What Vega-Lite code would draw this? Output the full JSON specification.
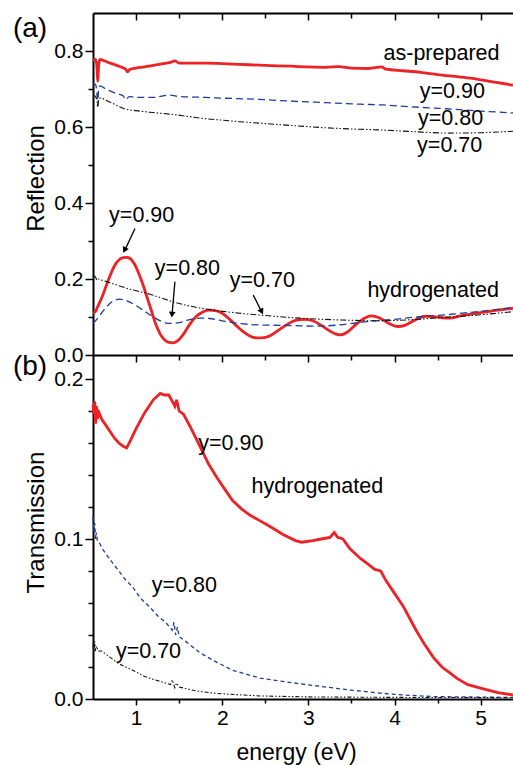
{
  "$schema": "https://vega.github.io/schema/vega-lite/v6.json",
  "autosize": "none",
  "padding": {"left": 93, "top": 13, "right": 420, "bottom": 752},
  "bounds": "flush",
  "spacing": 0,
  "config": {
    "view": {"stroke": null},
    "font": "Liberation Sans",
    "axis": {
      "labelFont": "Liberation Sans", "labelFontSize": 21, "labelColor": "#000",
      "titleFont": "Liberation Sans", "titleFontSize": 24, "titleFontWeight": "normal", "titleColor": "#000",
      "domainColor": "#000", "domainWidth": 2, "tickColor": "#000", "tickWidth": 1.5, "grid": false
    },
    "text": {"font": "Liberation Sans", "fontSize": 21.5, "color": "#000", "baseline": "alphabetic", "align": "center"}
  },
  "datasets": {
    "refl": [
      {"E":0.50,"R":0.775,"y":"0.90","s":"ap"},{"E":0.53,"R":0.778,"y":"0.90","s":"ap"},{"E":0.545,"R":0.76,"y":"0.90","s":"ap"},{"E":0.555,"R":0.72,"y":"0.90","s":"ap"},{"E":0.565,"R":0.76,"y":"0.90","s":"ap"},{"E":0.58,"R":0.778,"y":"0.90","s":"ap"},{"E":0.62,"R":0.775,"y":"0.90","s":"ap"},{"E":0.70,"R":0.768,"y":"0.90","s":"ap"},{"E":0.80,"R":0.76,"y":"0.90","s":"ap"},{"E":0.88,"R":0.752,"y":"0.90","s":"ap"},{"E":0.90,"R":0.745,"y":"0.90","s":"ap"},{"E":0.93,"R":0.752,"y":"0.90","s":"ap"},{"E":1.0,"R":0.755,"y":"0.90","s":"ap"},{"E":1.1,"R":0.758,"y":"0.90","s":"ap"},{"E":1.2,"R":0.762,"y":"0.90","s":"ap"},{"E":1.3,"R":0.766,"y":"0.90","s":"ap"},{"E":1.4,"R":0.770,"y":"0.90","s":"ap"},{"E":1.45,"R":0.774,"y":"0.90","s":"ap"},{"E":1.5,"R":0.768,"y":"0.90","s":"ap"},{"E":1.6,"R":0.768,"y":"0.90","s":"ap"},{"E":1.8,"R":0.768,"y":"0.90","s":"ap"},{"E":2.0,"R":0.767,"y":"0.90","s":"ap"},{"E":2.2,"R":0.765,"y":"0.90","s":"ap"},{"E":2.5,"R":0.762,"y":"0.90","s":"ap"},{"E":2.8,"R":0.760,"y":"0.90","s":"ap"},{"E":3.0,"R":0.758,"y":"0.90","s":"ap"},{"E":3.2,"R":0.757,"y":"0.90","s":"ap"},{"E":3.35,"R":0.759,"y":"0.90","s":"ap"},{"E":3.5,"R":0.755,"y":"0.90","s":"ap"},{"E":3.7,"R":0.754,"y":"0.90","s":"ap"},{"E":3.85,"R":0.758,"y":"0.90","s":"ap"},{"E":3.9,"R":0.752,"y":"0.90","s":"ap"},{"E":4.1,"R":0.748,"y":"0.90","s":"ap"},{"E":4.3,"R":0.744,"y":"0.90","s":"ap"},{"E":4.5,"R":0.738,"y":"0.90","s":"ap"},{"E":4.7,"R":0.733,"y":"0.90","s":"ap"},{"E":4.9,"R":0.728,"y":"0.90","s":"ap"},{"E":5.0,"R":0.724,"y":"0.90","s":"ap"},{"E":5.2,"R":0.717,"y":"0.90","s":"ap"},{"E":5.375,"R":0.71,"y":"0.90","s":"ap"},

      {"E":0.50,"R":0.715,"y":"0.80","s":"ap"},{"E":0.53,"R":0.712,"y":"0.80","s":"ap"},{"E":0.545,"R":0.69,"y":"0.80","s":"ap"},{"E":0.555,"R":0.655,"y":"0.80","s":"ap"},{"E":0.565,"R":0.70,"y":"0.80","s":"ap"},{"E":0.58,"R":0.708,"y":"0.80","s":"ap"},{"E":0.65,"R":0.70,"y":"0.80","s":"ap"},{"E":0.75,"R":0.69,"y":"0.80","s":"ap"},{"E":0.85,"R":0.682,"y":"0.80","s":"ap"},{"E":0.88,"R":0.672,"y":"0.80","s":"ap"},{"E":0.92,"R":0.68,"y":"0.80","s":"ap"},{"E":1.0,"R":0.678,"y":"0.80","s":"ap"},{"E":1.2,"R":0.678,"y":"0.80","s":"ap"},{"E":1.4,"R":0.684,"y":"0.80","s":"ap"},{"E":1.5,"R":0.68,"y":"0.80","s":"ap"},{"E":1.8,"R":0.678,"y":"0.80","s":"ap"},{"E":2.0,"R":0.676,"y":"0.80","s":"ap"},{"E":2.4,"R":0.673,"y":"0.80","s":"ap"},{"E":2.8,"R":0.668,"y":"0.80","s":"ap"},{"E":3.2,"R":0.664,"y":"0.80","s":"ap"},{"E":3.6,"R":0.66,"y":"0.80","s":"ap"},{"E":3.86,"R":0.658,"y":"0.80","s":"ap"},{"E":4.2,"R":0.653,"y":"0.80","s":"ap"},{"E":4.6,"R":0.648,"y":"0.80","s":"ap"},{"E":5.0,"R":0.642,"y":"0.80","s":"ap"},{"E":5.375,"R":0.637,"y":"0.80","s":"ap"},

      {"E":0.50,"R":0.684,"y":"0.70","s":"ap"},{"E":0.53,"R":0.68,"y":"0.70","s":"ap"},{"E":0.545,"R":0.668,"y":"0.70","s":"ap"},{"E":0.555,"R":0.652,"y":"0.70","s":"ap"},{"E":0.565,"R":0.672,"y":"0.70","s":"ap"},{"E":0.58,"R":0.676,"y":"0.70","s":"ap"},{"E":0.7,"R":0.665,"y":"0.70","s":"ap"},{"E":0.88,"R":0.647,"y":"0.70","s":"ap"},{"E":1.0,"R":0.643,"y":"0.70","s":"ap"},{"E":1.2,"R":0.638,"y":"0.70","s":"ap"},{"E":1.43,"R":0.633,"y":"0.70","s":"ap"},{"E":1.6,"R":0.628,"y":"0.70","s":"ap"},{"E":1.8,"R":0.622,"y":"0.70","s":"ap"},{"E":2.0,"R":0.618,"y":"0.70","s":"ap"},{"E":2.2,"R":0.614,"y":"0.70","s":"ap"},{"E":2.44,"R":0.61,"y":"0.70","s":"ap"},{"E":2.8,"R":0.604,"y":"0.70","s":"ap"},{"E":3.2,"R":0.598,"y":"0.70","s":"ap"},{"E":3.6,"R":0.594,"y":"0.70","s":"ap"},{"E":3.86,"R":0.592,"y":"0.70","s":"ap"},{"E":4.2,"R":0.588,"y":"0.70","s":"ap"},{"E":4.64,"R":0.584,"y":"0.70","s":"ap"},{"E":5.0,"R":0.585,"y":"0.70","s":"ap"},{"E":5.375,"R":0.589,"y":"0.70","s":"ap"},

      {"E":0.50,"R":0.11,"y":"0.90","s":"h"},{"E":0.53,"R":0.115,"y":"0.90","s":"h"},{"E":0.55,"R":0.125,"y":"0.90","s":"h"},{"E":0.60,"R":0.15,"y":"0.90","s":"h"},{"E":0.65,"R":0.18,"y":"0.90","s":"h"},{"E":0.70,"R":0.21,"y":"0.90","s":"h"},{"E":0.75,"R":0.235,"y":"0.90","s":"h"},{"E":0.80,"R":0.25,"y":"0.90","s":"h"},{"E":0.85,"R":0.256,"y":"0.90","s":"h"},{"E":0.89,"R":0.257,"y":"0.90","s":"h"},{"E":0.93,"R":0.254,"y":"0.90","s":"h"},{"E":0.98,"R":0.24,"y":"0.90","s":"h"},{"E":1.03,"R":0.215,"y":"0.90","s":"h"},{"E":1.08,"R":0.185,"y":"0.90","s":"h"},{"E":1.13,"R":0.15,"y":"0.90","s":"h"},{"E":1.18,"R":0.115,"y":"0.90","s":"h"},{"E":1.23,"R":0.08,"y":"0.90","s":"h"},{"E":1.28,"R":0.055,"y":"0.90","s":"h"},{"E":1.33,"R":0.04,"y":"0.90","s":"h"},{"E":1.38,"R":0.033,"y":"0.90","s":"h"},{"E":1.43,"R":0.032,"y":"0.90","s":"h"},{"E":1.48,"R":0.037,"y":"0.90","s":"h"},{"E":1.55,"R":0.055,"y":"0.90","s":"h"},{"E":1.62,"R":0.08,"y":"0.90","s":"h"},{"E":1.70,"R":0.102,"y":"0.90","s":"h"},{"E":1.78,"R":0.114,"y":"0.90","s":"h"},{"E":1.85,"R":0.118,"y":"0.90","s":"h"},{"E":1.92,"R":0.117,"y":"0.90","s":"h"},{"E":2.0,"R":0.11,"y":"0.90","s":"h"},{"E":2.08,"R":0.095,"y":"0.90","s":"h"},{"E":2.16,"R":0.078,"y":"0.90","s":"h"},{"E":2.24,"R":0.062,"y":"0.90","s":"h"},{"E":2.32,"R":0.05,"y":"0.90","s":"h"},{"E":2.40,"R":0.045,"y":"0.90","s":"h"},{"E":2.46,"R":0.045,"y":"0.90","s":"h"},{"E":2.55,"R":0.05,"y":"0.90","s":"h"},{"E":2.65,"R":0.065,"y":"0.90","s":"h"},{"E":2.75,"R":0.08,"y":"0.90","s":"h"},{"E":2.85,"R":0.091,"y":"0.90","s":"h"},{"E":2.96,"R":0.094,"y":"0.90","s":"h"},{"E":3.05,"R":0.09,"y":"0.90","s":"h"},{"E":3.15,"R":0.078,"y":"0.90","s":"h"},{"E":3.25,"R":0.063,"y":"0.90","s":"h"},{"E":3.32,"R":0.055,"y":"0.90","s":"h"},{"E":3.37,"R":0.053,"y":"0.90","s":"h"},{"E":3.45,"R":0.06,"y":"0.90","s":"h"},{"E":3.55,"R":0.08,"y":"0.90","s":"h"},{"E":3.65,"R":0.097,"y":"0.90","s":"h"},{"E":3.73,"R":0.103,"y":"0.90","s":"h"},{"E":3.82,"R":0.098,"y":"0.90","s":"h"},{"E":3.92,"R":0.085,"y":"0.90","s":"h"},{"E":4.04,"R":0.075,"y":"0.90","s":"h"},{"E":4.12,"R":0.078,"y":"0.90","s":"h"},{"E":4.22,"R":0.09,"y":"0.90","s":"h"},{"E":4.30,"R":0.099,"y":"0.90","s":"h"},{"E":4.37,"R":0.102,"y":"0.90","s":"h"},{"E":4.45,"R":0.101,"y":"0.90","s":"h"},{"E":4.55,"R":0.098,"y":"0.90","s":"h"},{"E":4.64,"R":0.097,"y":"0.90","s":"h"},{"E":4.75,"R":0.102,"y":"0.90","s":"h"},{"E":4.9,"R":0.108,"y":"0.90","s":"h"},{"E":5.1,"R":0.115,"y":"0.90","s":"h"},{"E":5.375,"R":0.123,"y":"0.90","s":"h"},

      {"E":0.50,"R":0.084,"y":"0.80","s":"h"},{"E":0.53,"R":0.09,"y":"0.80","s":"h"},{"E":0.58,"R":0.105,"y":"0.80","s":"h"},{"E":0.65,"R":0.125,"y":"0.80","s":"h"},{"E":0.72,"R":0.14,"y":"0.80","s":"h"},{"E":0.81,"R":0.147,"y":"0.80","s":"h"},{"E":0.90,"R":0.142,"y":"0.80","s":"h"},{"E":1.0,"R":0.13,"y":"0.80","s":"h"},{"E":1.1,"R":0.115,"y":"0.80","s":"h"},{"E":1.2,"R":0.1,"y":"0.80","s":"h"},{"E":1.3,"R":0.088,"y":"0.80","s":"h"},{"E":1.39,"R":0.083,"y":"0.80","s":"h"},{"E":1.5,"R":0.085,"y":"0.80","s":"h"},{"E":1.6,"R":0.092,"y":"0.80","s":"h"},{"E":1.74,"R":0.097,"y":"0.80","s":"h"},{"E":1.85,"R":0.096,"y":"0.80","s":"h"},{"E":2.0,"R":0.09,"y":"0.80","s":"h"},{"E":2.2,"R":0.083,"y":"0.80","s":"h"},{"E":2.44,"R":0.079,"y":"0.80","s":"h"},{"E":2.7,"R":0.078,"y":"0.80","s":"h"},{"E":3.1,"R":0.076,"y":"0.80","s":"h"},{"E":3.4,"R":0.08,"y":"0.80","s":"h"},{"E":3.68,"R":0.088,"y":"0.80","s":"h"},{"E":4.0,"R":0.094,"y":"0.80","s":"h"},{"E":4.26,"R":0.1,"y":"0.80","s":"h"},{"E":4.6,"R":0.106,"y":"0.80","s":"h"},{"E":5.0,"R":0.115,"y":"0.80","s":"h"},{"E":5.375,"R":0.125,"y":"0.80","s":"h"},

      {"E":0.50,"R":0.21,"y":"0.70","s":"h"},{"E":0.53,"R":0.205,"y":"0.70","s":"h"},{"E":0.545,"R":0.197,"y":"0.70","s":"h"},{"E":0.56,"R":0.2,"y":"0.70","s":"h"},{"E":0.6,"R":0.197,"y":"0.70","s":"h"},{"E":0.7,"R":0.19,"y":"0.70","s":"h"},{"E":0.9,"R":0.175,"y":"0.70","s":"h"},{"E":1.16,"R":0.16,"y":"0.70","s":"h"},{"E":1.43,"R":0.14,"y":"0.70","s":"h"},{"E":1.6,"R":0.13,"y":"0.70","s":"h"},{"E":1.9,"R":0.118,"y":"0.70","s":"h"},{"E":2.2,"R":0.11,"y":"0.70","s":"h"},{"E":2.44,"R":0.105,"y":"0.70","s":"h"},{"E":2.9,"R":0.097,"y":"0.70","s":"h"},{"E":3.4,"R":0.092,"y":"0.70","s":"h"},{"E":3.8,"R":0.09,"y":"0.70","s":"h"},{"E":4.2,"R":0.093,"y":"0.70","s":"h"},{"E":4.64,"R":0.1,"y":"0.70","s":"h"},{"E":5.0,"R":0.106,"y":"0.70","s":"h"},{"E":5.375,"R":0.114,"y":"0.70","s":"h"}
    ],
    "trans": [
      {"E":0.50,"T":0.184,"y":"0.90"},{"E":0.51,"T":0.178,"y":"0.90"},{"E":0.52,"T":0.186,"y":"0.90"},{"E":0.53,"T":0.172,"y":"0.90"},{"E":0.54,"T":0.183,"y":"0.90"},{"E":0.55,"T":0.175,"y":"0.90"},{"E":0.57,"T":0.179,"y":"0.90"},{"E":0.60,"T":0.175,"y":"0.90"},{"E":0.65,"T":0.171,"y":"0.90"},{"E":0.70,"T":0.167,"y":"0.90"},{"E":0.75,"T":0.163,"y":"0.90"},{"E":0.80,"T":0.16,"y":"0.90"},{"E":0.85,"T":0.158,"y":"0.90"},{"E":0.89,"T":0.157,"y":"0.90"},{"E":0.93,"T":0.161,"y":"0.90"},{"E":1.0,"T":0.169,"y":"0.90"},{"E":1.1,"T":0.179,"y":"0.90"},{"E":1.2,"T":0.187,"y":"0.90"},{"E":1.28,"T":0.191,"y":"0.90"},{"E":1.33,"T":0.19,"y":"0.90"},{"E":1.38,"T":0.19,"y":"0.90"},{"E":1.42,"T":0.186,"y":"0.90"},{"E":1.45,"T":0.183,"y":"0.90"},{"E":1.47,"T":0.187,"y":"0.90"},{"E":1.5,"T":0.18,"y":"0.90"},{"E":1.55,"T":0.178,"y":"0.90"},{"E":1.63,"T":0.17,"y":"0.90"},{"E":1.74,"T":0.158,"y":"0.90"},{"E":1.84,"T":0.147,"y":"0.90"},{"E":1.93,"T":0.139,"y":"0.90"},{"E":2.03,"T":0.131,"y":"0.90"},{"E":2.12,"T":0.124,"y":"0.90"},{"E":2.22,"T":0.119,"y":"0.90"},{"E":2.32,"T":0.115,"y":"0.90"},{"E":2.45,"T":0.111,"y":"0.90"},{"E":2.55,"T":0.108,"y":"0.90"},{"E":2.7,"T":0.103,"y":"0.90"},{"E":2.85,"T":0.099,"y":"0.90"},{"E":2.92,"T":0.098,"y":"0.90"},{"E":3.05,"T":0.099,"y":"0.90"},{"E":3.15,"T":0.1,"y":"0.90"},{"E":3.25,"T":0.101,"y":"0.90"},{"E":3.3,"T":0.104,"y":"0.90"},{"E":3.34,"T":0.101,"y":"0.90"},{"E":3.4,"T":0.1,"y":"0.90"},{"E":3.48,"T":0.094,"y":"0.90"},{"E":3.6,"T":0.088,"y":"0.90"},{"E":3.7,"T":0.084,"y":"0.90"},{"E":3.77,"T":0.081,"y":"0.90"},{"E":3.84,"T":0.08,"y":"0.90"},{"E":3.9,"T":0.074,"y":"0.90"},{"E":4.0,"T":0.066,"y":"0.90"},{"E":4.1,"T":0.058,"y":"0.90"},{"E":4.18,"T":0.05,"y":"0.90"},{"E":4.25,"T":0.043,"y":"0.90"},{"E":4.35,"T":0.034,"y":"0.90"},{"E":4.45,"T":0.026,"y":"0.90"},{"E":4.55,"T":0.02,"y":"0.90"},{"E":4.65,"T":0.016,"y":"0.90"},{"E":4.72,"T":0.013,"y":"0.90"},{"E":4.85,"T":0.009,"y":"0.90"},{"E":5.02,"T":0.0065,"y":"0.90"},{"E":5.2,"T":0.004,"y":"0.90"},{"E":5.375,"T":0.0025,"y":"0.90"},

      {"E":0.50,"T":0.114,"y":"0.80"},{"E":0.51,"T":0.105,"y":"0.80"},{"E":0.52,"T":0.11,"y":"0.80"},{"E":0.53,"T":0.1,"y":"0.80"},{"E":0.54,"T":0.104,"y":"0.80"},{"E":0.55,"T":0.099,"y":"0.80"},{"E":0.58,"T":0.097,"y":"0.80"},{"E":0.62,"T":0.093,"y":"0.80"},{"E":0.70,"T":0.087,"y":"0.80"},{"E":0.80,"T":0.08,"y":"0.80"},{"E":0.87,"T":0.075,"y":"0.80"},{"E":0.96,"T":0.07,"y":"0.80"},{"E":1.05,"T":0.063,"y":"0.80"},{"E":1.15,"T":0.058,"y":"0.80"},{"E":1.25,"T":0.052,"y":"0.80"},{"E":1.35,"T":0.0475,"y":"0.80"},{"E":1.42,"T":0.043,"y":"0.80"},{"E":1.44,"T":0.048,"y":"0.80"},{"E":1.46,"T":0.04,"y":"0.80"},{"E":1.48,"T":0.045,"y":"0.80"},{"E":1.5,"T":0.039,"y":"0.80"},{"E":1.6,"T":0.035,"y":"0.80"},{"E":1.74,"T":0.029,"y":"0.80"},{"E":1.9,"T":0.024,"y":"0.80"},{"E":2.12,"T":0.018,"y":"0.80"},{"E":2.44,"T":0.013,"y":"0.80"},{"E":2.7,"T":0.011,"y":"0.80"},{"E":3.0,"T":0.0088,"y":"0.80"},{"E":3.29,"T":0.0069,"y":"0.80"},{"E":3.5,"T":0.0055,"y":"0.80"},{"E":3.83,"T":0.0037,"y":"0.80"},{"E":4.1,"T":0.0025,"y":"0.80"},{"E":4.45,"T":0.0015,"y":"0.80"},{"E":5.0,"T":0.0012,"y":"0.80"},{"E":5.375,"T":0.001,"y":"0.80"},

      {"E":0.50,"T":0.034,"y":"0.70"},{"E":0.51,"T":0.029,"y":"0.70"},{"E":0.52,"T":0.036,"y":"0.70"},{"E":0.53,"T":0.03,"y":"0.70"},{"E":0.54,"T":0.033,"y":"0.70"},{"E":0.56,"T":0.03,"y":"0.70"},{"E":0.60,"T":0.03,"y":"0.70"},{"E":0.70,"T":0.026,"y":"0.70"},{"E":0.8,"T":0.022,"y":"0.70"},{"E":0.96,"T":0.018,"y":"0.70"},{"E":1.1,"T":0.014,"y":"0.70"},{"E":1.28,"T":0.011,"y":"0.70"},{"E":1.4,"T":0.009,"y":"0.70"},{"E":1.42,"T":0.012,"y":"0.70"},{"E":1.45,"T":0.007,"y":"0.70"},{"E":1.47,"T":0.01,"y":"0.70"},{"E":1.5,"T":0.0075,"y":"0.70"},{"E":1.7,"T":0.005,"y":"0.70"},{"E":1.93,"T":0.0035,"y":"0.70"},{"E":2.44,"T":0.0019,"y":"0.70"},{"E":3.0,"T":0.0013,"y":"0.70"},{"E":4.0,"T":0.001,"y":"0.70"},{"E":5.375,"T":0.0008,"y":"0.70"}
    ],
    "labA": [
      {"E":4.545,"R":0.776,"t":"as-prepared"},
      {"E":4.671,"R":0.676,"t":"y=0.90"},
      {"E":4.65,"R":0.605,"t":"y=0.80"},
      {"E":4.64,"R":0.535,"t":"y=0.70"},
      {"E":1.065,"R":0.351,"t":"y=0.90"},
      {"E":1.596,"R":0.2105,"t":"y=0.80"},
      {"E":2.466,"R":0.18,"t":"y=0.70"},
      {"E":4.448,"R":0.153,"t":"hydrogenated"}
    ],
    "panA": [{"E":-0.231,"R":0.8376,"t":"(a)"}],
    "panB": [{"E":-0.231,"T":0.2025,"t":"(b)"}],
    "arrows": [
      {"id":1,"E":0.987,"R":0.333,"E2":0.862,"R2":0.272},
      {"id":2,"E":1.451,"R":0.193,"E2":1.416,"R2":0.103},
      {"id":3,"E":2.36,"R":0.158,"E2":2.463,"R2":0.111}
    ],
    "heads": [
      {"id":1,"E":0.866,"R":0.276},
      {"id":2,"E":1.417,"R":0.106},
      {"id":3,"E":2.458,"R":0.114}
    ],
    "labB": [
      {"E":2.10,"T":0.1556,"t":"y=0.90"},
      {"E":3.104,"T":0.1286,"t":"hydrogenated"},
      {"E":1.561,"T":0.067,"t":"y=0.80"},
      {"E":1.144,"T":0.0254,"t":"y=0.70"}
    ]
  },
  "vconcat": [
    {
      "width": 420,
      "height": 342,
      "resolve": {"axis": {"x": "independent", "y": "independent"}},
      "layer": [
        {
          "layer": [
            {
              "data": {"name": "refl"},
              "transform": [{"filter": "datum.y == '0.90'"}],
              "mark": {"type": "line", "color": "#ee2226", "strokeWidth": 2.8, "interpolate": "monotone"},
              "encoding": {
                "x": {"field": "E", "type": "quantitative", "scale": {"domain": [0.5, 5.375], "nice": false, "zero": false},
                  "axis": {"orient": "bottom", "values": [1,2,3,4,5], "labels": false, "title": null, "tickSize": 7}},
                "y": {"field": "R", "type": "quantitative", "scale": {"domain": [0, 0.9], "nice": false},
                  "axis": {"values": [0,0.2,0.4,0.6,0.8], "labelPadding": 2, "format": ".1f", "tickSize": 8,
                    "title": "Reflection", "titleX": -50, "titleY": 165, "titleBaseline": "alphabetic", "titleAlign": "center", "titleAngle": 270}},
                "detail": {"field": "s"}
              }
            },
            {
              "data": {"name": "refl"},
              "transform": [{"filter": "datum.y == '0.80'"}],
              "mark": {"type": "line", "color": "#1e3c9a", "strokeWidth": 1.3, "strokeDash": [7, 4], "interpolate": "monotone"},
              "encoding": {
                "x": {"field": "E", "type": "quantitative"},
                "y": {"field": "R", "type": "quantitative"},
                "detail": {"field": "s"}
              }
            },
            {
              "data": {"name": "refl"},
              "transform": [{"filter": "datum.y == '0.70'"}],
              "mark": {"type": "line", "color": "#111111", "strokeWidth": 1.1, "strokeDash": [6, 2, 1.5, 2, 1.5, 2], "interpolate": "monotone"},
              "encoding": {
                "x": {"field": "E", "type": "quantitative"},
                "y": {"field": "R", "type": "quantitative"},
                "detail": {"field": "s"}
              }
            },
            {
              "data": {"name": "heads"},
              "transform": [{"filter": "datum.id == 1"}],
              "mark": {"type": "point", "shape": "triangle-down", "filled": true, "color": "#000", "size": 45, "angle": 26, "opacity": 1},
              "encoding": {
                "x": {"field": "E", "type": "quantitative"},
                "y": {"field": "R", "type": "quantitative"}
              }
            },
            {
              "data": {"name": "heads"},
              "transform": [{"filter": "datum.id == 2"}],
              "mark": {"type": "point", "shape": "triangle-down", "filled": true, "color": "#000", "size": 45, "angle": 5, "opacity": 1},
              "encoding": {
                "x": {"field": "E", "type": "quantitative"},
                "y": {"field": "R", "type": "quantitative"}
              }
            },
            {
              "data": {"name": "heads"},
              "transform": [{"filter": "datum.id == 3"}],
              "mark": {"type": "point", "shape": "triangle-down", "filled": true, "color": "#000", "size": 45, "angle": -27, "opacity": 1},
              "encoding": {
                "x": {"field": "E", "type": "quantitative"},
                "y": {"field": "R", "type": "quantitative"}
              }
            }
          ]
        },
        {
          "data": {"name": "panA"},
          "mark": {"type": "text", "fontSize": 28},
          "encoding": {
            "x": {"field": "E", "type": "quantitative",
              "axis": {"orient": "bottom", "values": [1.5,2.5,3.5,4.5], "labels": false, "domain": false, "title": null, "tickSize": 5}},
            "y": {"field": "R", "type": "quantitative",
              "axis": {"orient": "left", "values": [0.1,0.3,0.5,0.7], "labels": false, "domain": false, "title": null, "tickSize": 5}},
            "text": {"field": "t"}
          }
        },
        {
          "data": {"name": "labA"},
          "mark": {"type": "text"},
          "encoding": {
            "x": {"field": "E", "type": "quantitative",
              "axis": {"orient": "top", "values": [1,2,3,4,5], "labels": false, "title": null, "tickSize": -7}},
            "y": {"field": "R", "type": "quantitative", "axis": null},
            "text": {"field": "t"}
          }
        },
        {
          "data": {"name": "arrows"},
          "mark": {"type": "rule", "color": "#000", "strokeWidth": 1.3},
          "encoding": {
            "x": {"field": "E", "type": "quantitative",
              "axis": {"orient": "top", "values": [1.5,2.5,3.5,4.5], "labels": false, "domain": false, "title": null, "tickSize": -5}},
            "y": {"field": "R", "type": "quantitative", "axis": null},
            "x2": {"field": "E2"},
            "y2": {"field": "R2"}
          }
        }
      ]
    },
    {
      "width": 420,
      "height": 344,
      "resolve": {"axis": {"x": "independent", "y": "independent"}},
      "layer": [
        {
          "layer": [
            {
              "data": {"name": "trans"},
              "transform": [{"filter": "datum.y == '0.90'"}],
              "mark": {"type": "line", "color": "#ee2226", "strokeWidth": 2.8},
              "encoding": {
                "x": {"field": "E", "type": "quantitative", "scale": {"domain": [0.5, 5.375], "nice": false, "zero": false},
                  "axis": {"orient": "bottom", "values": [1,2,3,4,5], "format": "d", "tickSize": 6,
                    "title": "energy (eV)", "titleFontSize": 23, "titleX": 203, "titleY": 60, "titleBaseline": "alphabetic", "titleAlign": "center"}},
                "y": {"field": "T", "type": "quantitative", "scale": {"domain": [0, 0.215], "nice": false},
                  "axis": {"values": [0,0.1,0.2], "labelPadding": 2, "format": ".1f", "tickSize": 8,
                    "title": "Transmission", "titleX": -50, "titleY": 167, "titleBaseline": "alphabetic", "titleAlign": "center", "titleAngle": 270}}
              }
            },
            {
              "data": {"name": "trans"},
              "transform": [{"filter": "datum.y == '0.80'"}],
              "mark": {"type": "line", "color": "#1e3c9a", "strokeWidth": 1.3, "strokeDash": [4, 3]},
              "encoding": {
                "x": {"field": "E", "type": "quantitative"},
                "y": {"field": "T", "type": "quantitative"}
              }
            },
            {
              "data": {"name": "trans"},
              "transform": [{"filter": "datum.y == '0.70'"}],
              "mark": {"type": "line", "color": "#111111", "strokeWidth": 1.1, "strokeDash": [4, 2, 1.5, 2, 1.5, 2]},
              "encoding": {
                "x": {"field": "E", "type": "quantitative"},
                "y": {"field": "T", "type": "quantitative"}
              }
            }
          ]
        },
        {
          "data": {"name": "labB"},
          "mark": {"type": "text"},
          "encoding": {
            "x": {"field": "E", "type": "quantitative",
              "axis": {"orient": "bottom", "values": [1.5,2.5,3.5,4.5], "labels": false, "domain": false, "title": null, "tickSize": 4}},
            "y": {"field": "T", "type": "quantitative",
              "axis": {"orient": "left", "values": [0.02,0.04,0.06,0.08,0.12,0.14,0.16,0.18], "labels": false, "domain": false, "title": null, "tickSize": 5}},
            "text": {"field": "t"}
          }
        },
        {
          "data": {"name": "panB"},
          "mark": {"type": "text", "fontSize": 28},
          "encoding": {
            "x": {"field": "E", "type": "quantitative", "axis": null},
            "y": {"field": "T", "type": "quantitative", "axis": null},
            "text": {"field": "t"}
          }
        }
      ]
    }
  ]
}
